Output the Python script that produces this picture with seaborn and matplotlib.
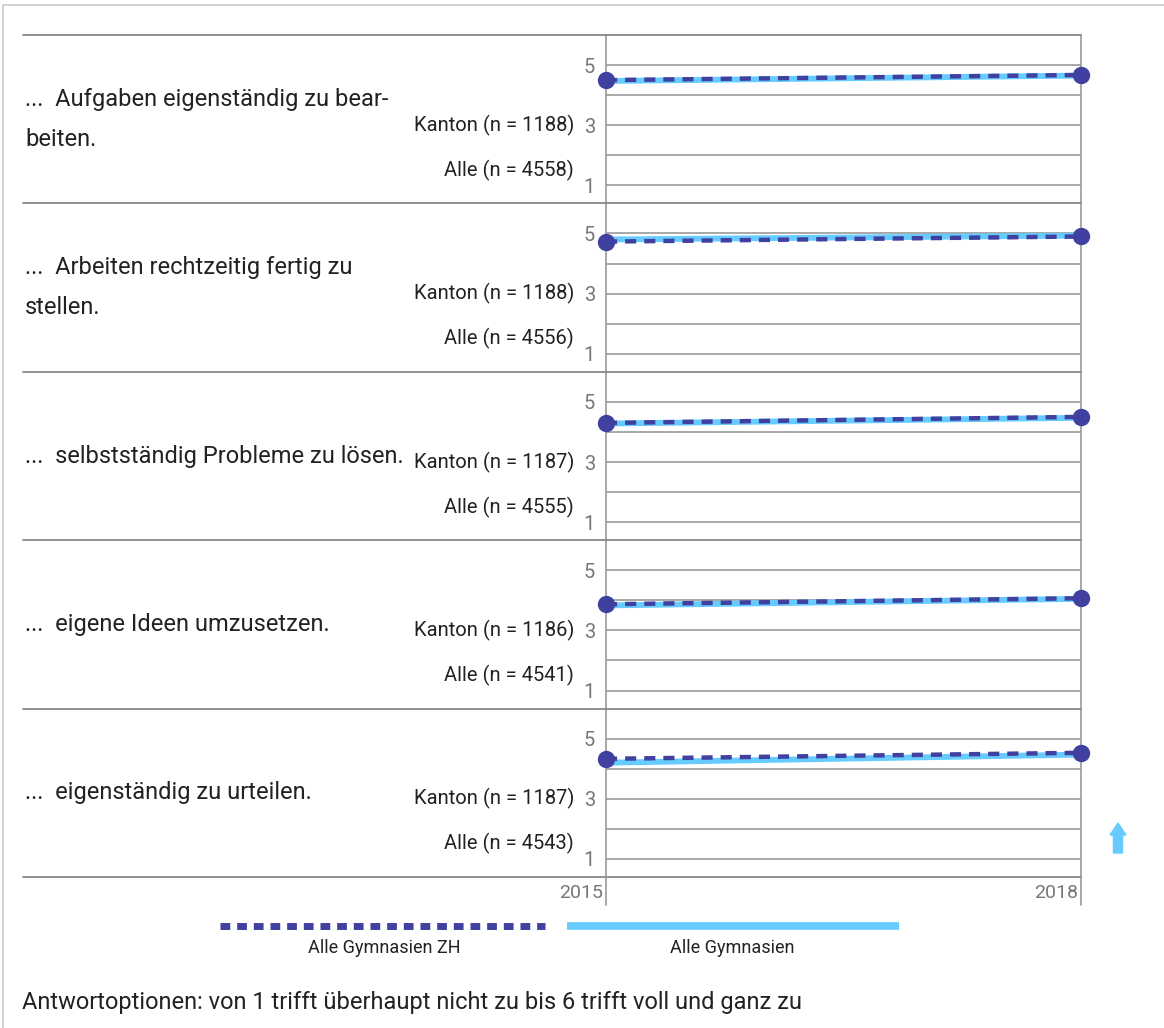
import numpy as np
import pandas as pd
import matplotlib
matplotlib.use('Agg')
import matplotlib.pyplot as plt
import seaborn as sns
from matplotlib.lines import Line2D
from matplotlib.patches import FancyArrow
from matplotlib.transforms import blended_transform_factory

# ====== DATA

items = ['...  Aufgaben eigenständig zu bear-\nbeiten.',
         '...  Arbeiten rechtzeitig fertig zu\nstellen.',
         '...  selbstständig Probleme zu lösen.',
         '...  eigene Ideen umzusetzen.',
         '...  eigenständig zu urteilen.']
n_kanton = [1188, 1188, 1187, 1186, 1187]
n_alle = [4558, 4556, 4555, 4541, 4543]
years = [2015, 2018]
zh_2015 = [4.50, 4.73, 4.30, 3.87, 4.33]
zh_2018 = [4.67, 4.90, 4.50, 4.07, 4.53]
alle_2015 = [4.47, 4.80, 4.28, 3.83, 4.20]
alle_2018 = [4.65, 4.93, 4.47, 4.05, 4.47]
series = ['Alle Gymnasien ZH', 'Alle Gymnasien']

PURPLE = '#4040a0'
LIGHT = '#66ccff'
GRID = '#9a9a9a'
FONT = ['Roboto', 'DejaVu Sans']

W, H = 1164, 1028


def fx(x):
    return x / W


def fy(y):
    return 1 - y / H


rows = []
for i in range(len(items)):
    rows.append({'item': i, 'year': years[0], 'series': series[0], 'value': zh_2015[i]})
    rows.append({'item': i, 'year': years[1], 'series': series[0], 'value': zh_2018[i]})
    rows.append({'item': i, 'year': years[0], 'series': series[1], 'value': alle_2015[i]})
    rows.append({'item': i, 'year': years[1], 'series': series[1], 'value': alle_2018[i]})
df = pd.DataFrame(rows)

sns.set_style('white')
plt.rcParams['font.family'] = FONT

fig = plt.figure(figsize=(W / 100, H / 100), dpi=100)

x0, x1 = 606, 1081
top = 35
ph = 168.4

for i in range(len(items)):
    ytop = top + i * ph
    ax = fig.add_axes([fx(x0), fy(ytop + ph), fx(x1) - fx(x0), ph / H])
    d = df[df['item'] == i]
    sns.lineplot(data=d[d['series'] == series[1]], x='year', y='value', color=LIGHT,
                 lw=4.2, ax=ax, legend=False, zorder=3)
    sns.lineplot(data=d[d['series'] == series[0]], x='year', y='value', color=PURPLE,
                 lw=3.2, ax=ax, legend=False, zorder=4, marker='o', markersize=12.5,
                 markeredgewidth=0, dashes=False, clip_on=False)
    ax.lines[-1].set_dashes([2.5, 1.8])
    ax.set_xlim(2015, 2018)
    ax.set_ylim(0.4, 6)
    for v in [1, 2, 3, 4, 5]:
        ax.axhline(v, color=GRID, lw=1.2, zorder=1)
    ax.set_yticks([1, 3, 5])
    ax.set_yticklabels(['1', '3', '5'], color='#777777', fontsize=14.5)
    ax.tick_params(axis='y', length=0, pad=8)
    ax.set_xticks([])
    ax.set_xlabel('')
    ax.set_ylabel('')
    for s in ['top', 'bottom']:
        ax.spines[s].set_visible(False)
    for s in ['left', 'right']:
        ax.spines[s].set_color(GRID)
        ax.spines[s].set_linewidth(1.2)

    tr = blended_transform_factory(ax.transAxes, ax.transData)
    ax.text(-0.067, 3.0, f'Kanton (n = {n_kanton[i]})', transform=tr, ha='right',
            va='center', fontsize=14.5, color='#222222')
    ax.text(-0.067, 1.5, f'Alle (n = {n_alle[i]})', transform=tr, ha='right',
            va='center', fontsize=14.5, color='#222222')
    fig.text(fx(25), fy(ytop + ph / 2), items[i], ha='left', va='center',
             fontsize=17, color='#222222', linespacing=1.95)

# panel separators
for i in range(len(items) + 1):
    y = top + i * ph
    fig.add_artist(Line2D([fx(23), fx(x1)], [fy(y), fy(y)], color='#888888', lw=1.3))

# x tick marks and labels
for x, lab in [(x0, '2015'), (x1, '2018')]:
    fig.add_artist(Line2D([fx(x), fx(x)], [fy(top + 5 * ph), fy(905)], color=GRID, lw=1.2))
    fig.text(fx(x - 3), fy(893), lab, ha='right', va='center', fontsize=14, color='#777777')

# legend
fig.add_artist(Line2D([fx(220), fx(545)], [fy(926), fy(926)], color=PURPLE, lw=5,
                      dashes=[1.4, 1.0]))
fig.add_artist(Line2D([fx(567), fx(899)], [fy(926), fy(926)], color=LIGHT, lw=5.5,
                      solid_capstyle='butt'))
fig.text(fx(384), fy(948), series[0], ha='center', va='center', fontsize=13, color='#222222')
fig.text(fx(732), fy(948), series[1], ha='center', va='center', fontsize=13, color='#222222')

# arrow
fig.add_artist(FancyArrow(fx(1118), fy(853), 0, fy(823) - fy(853), width=8 / H,
                          head_width=16 / W, head_length=12 / H, length_includes_head=True,
                          color=LIGHT, transform=fig.transFigure))

# frame
fig.add_artist(Line2D([fx(3), fx(W)], [fy(5), fy(5)], color='#cccccc', lw=1.2))
fig.add_artist(Line2D([fx(3), fx(3)], [fy(5), fy(H)], color='#cccccc', lw=1.2))

fig.text(fx(22), fy(1003), 'Antwortoptionen: von 1 trifft überhaupt nicht zu bis 6 trifft voll und ganz zu',
         ha='left', va='center', fontsize=17, color='#222222')

fig.savefig('out.png', dpi=100)
plt.close()
